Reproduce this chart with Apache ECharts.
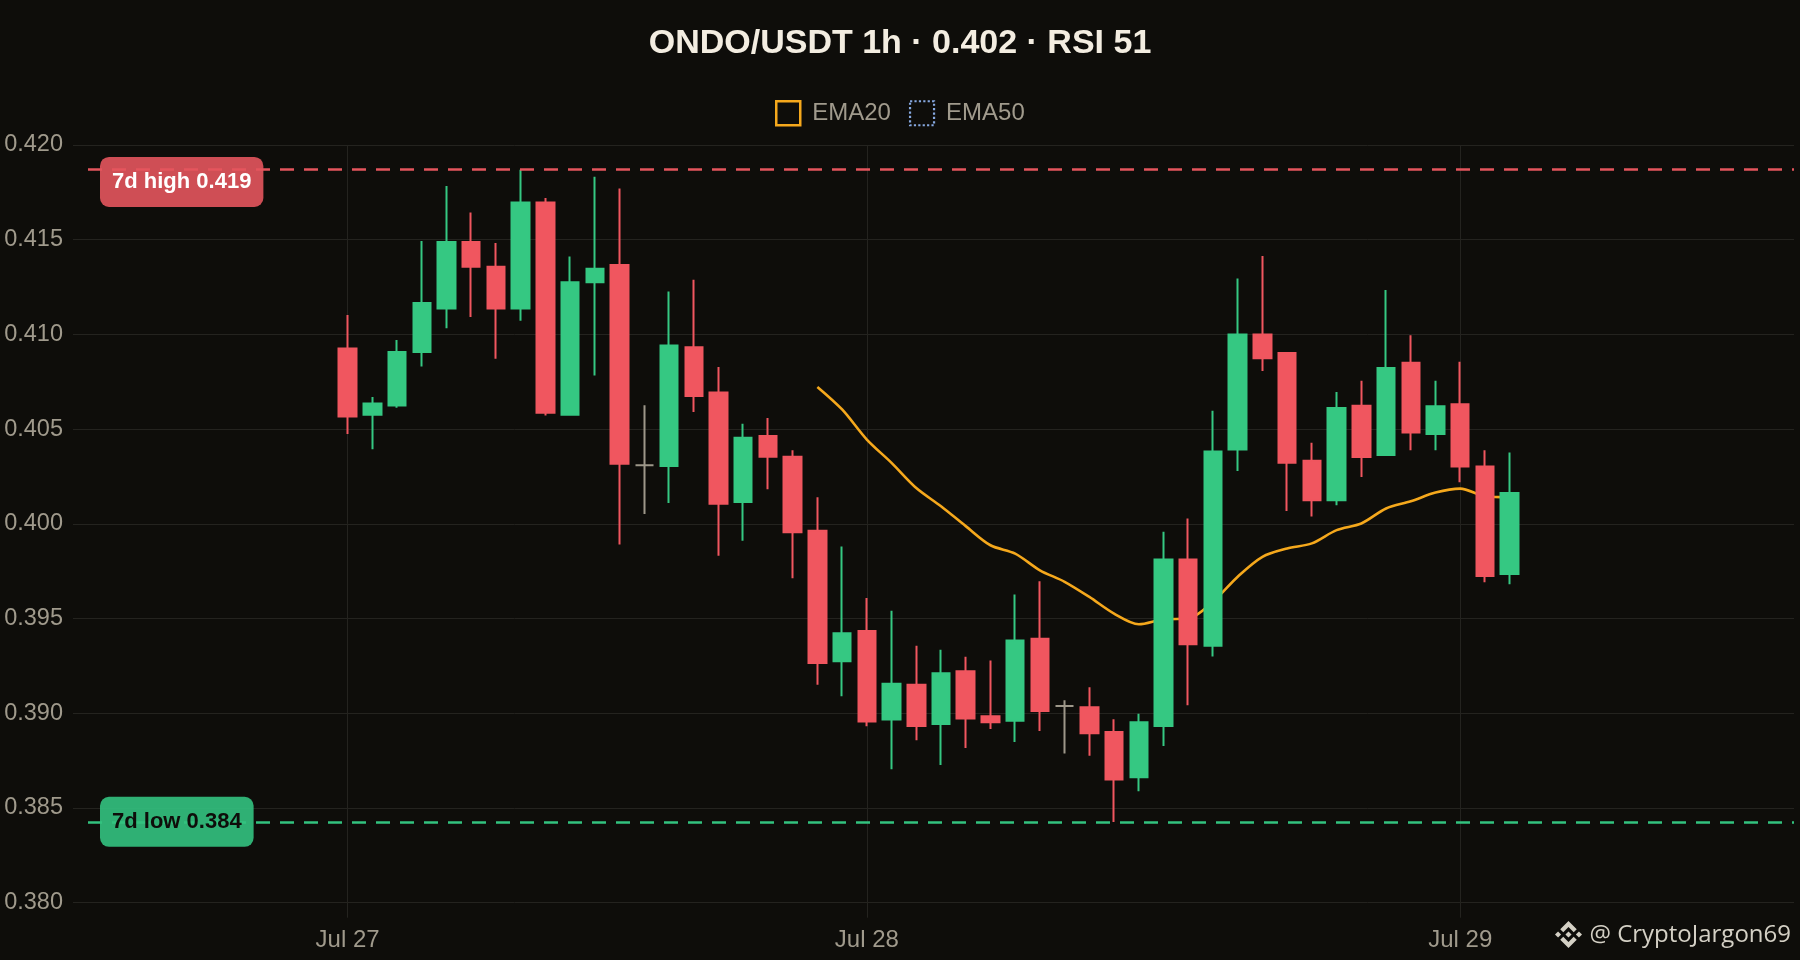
<!DOCTYPE html>
<html>
<head>
<meta charset="utf-8">
<script src="https://cdn.jsdelivr.net/npm/echarts@6/dist/echarts.min.js"></script>
<style>
  html, body { margin: 0; padding: 0; background: #0e0d0a; }
  #chart { width: 1800px; height: 960px; }
</style>
</head>
<body>
<div id="chart"></div>
<script>
// ---- Data ----
const times = [
  'Jul 27 03:00','Jul 27 04:00','Jul 27 05:00','Jul 27 06:00','Jul 27 07:00','Jul 27 08:00','Jul 27 09:00',
  'Jul 27 10:00','Jul 27 11:00','Jul 27 12:00','Jul 27 13:00','Jul 27 14:00','Jul 27 15:00','Jul 27 16:00',
  'Jul 27 17:00','Jul 27 18:00','Jul 27 19:00','Jul 27 20:00','Jul 27 21:00','Jul 27 22:00','Jul 27 23:00',
  'Jul 28 00:00','Jul 28 01:00','Jul 28 02:00','Jul 28 03:00','Jul 28 04:00','Jul 28 05:00','Jul 28 06:00',
  'Jul 28 07:00','Jul 28 08:00','Jul 28 09:00','Jul 28 10:00','Jul 28 11:00','Jul 28 12:00','Jul 28 13:00',
  'Jul 28 14:00','Jul 28 15:00','Jul 28 16:00','Jul 28 17:00','Jul 28 18:00','Jul 28 19:00','Jul 28 20:00',
  'Jul 28 21:00','Jul 28 22:00','Jul 28 23:00',
  'Jul 29 00:00','Jul 29 01:00','Jul 29 02:00'
];
const openP = [
  0.40926,0.40576,0.40625,0.40907,0.41137,0.41488,0.41357,0.41137,0.41697,0.40576,
  0.41276,0.41366,0.40310,0.40305,0.40932,0.40693,0.40115,0.40464,0.40354,0.39964,
  0.39274,0.39435,0.38967,0.39151,0.38944,0.39222,0.38984,0.38961,0.39393,0.39039,
  0.39032,0.38901,0.38662,0.38933,0.39812,0.39356,0.40393,0.41000,0.40902,0.40333,
  0.40125,0.40623,0.40363,0.40851,0.40474,0.40632,0.40303,0.39735
];
const closeP = [
  0.40567,0.40636,0.40907,0.41166,0.41488,0.41357,0.41137,0.41697,0.40586,0.41276,
  0.41347,0.40317,0.40310,0.40942,0.40675,0.40106,0.40454,0.40354,0.39955,0.39265,
  0.39423,0.38956,0.39156,0.38933,0.39211,0.38972,0.38952,0.39384,0.39012,0.39039,
  0.38894,0.38651,0.38952,0.39812,0.39365,0.40382,0.41000,0.40874,0.40323,0.40125,
  0.40612,0.40353,0.40823,0.40482,0.40621,0.40303,0.39725,0.40163
];
const lowP = [
  0.40474,0.40394,0.40613,0.40831,0.41032,0.41092,0.40871,0.41072,0.40572,0.40572,
  0.40783,0.39891,0.40052,0.40110,0.40591,0.39832,0.39911,0.40182,0.39713,0.39151,
  0.39090,0.38932,0.38705,0.38857,0.38727,0.38817,0.38917,0.38849,0.38907,0.38787,
  0.38776,0.38426,0.38588,0.38827,0.39042,0.39300,0.40279,0.40807,0.40068,0.40039,
  0.40098,0.40247,0.40363,0.40388,0.40388,0.40219,0.39692,0.39681
];
const highP = [
  0.41102,0.40669,0.40970,0.41493,0.41783,0.41643,0.41482,0.41870,0.41720,0.41412,
  0.41833,0.41771,0.40626,0.41227,0.41288,0.40828,0.40529,0.40559,0.40389,0.40140,
  0.39880,0.39608,0.39541,0.39357,0.39336,0.39298,0.39278,0.39627,0.39697,0.39069,
  0.39137,0.38968,0.38998,0.39958,0.40028,0.40597,0.41295,0.41414,0.40905,0.40428,
  0.40696,0.40756,0.41235,0.40995,0.40756,0.40856,0.40388,0.40377
];
// EMA20 starts at the 20th bar (index 19)
const ema20Start = 19;
const ema20Values = [
  0.40723,0.40604,0.40445,0.40322,0.40189,0.40093,0.39988,0.39887,0.39843,0.39755,
  0.39694,0.39614,0.39526,0.39470,0.39496,0.39500,0.39589,0.39721,0.39826,0.39870,
  0.39897,0.39967,0.40002,0.40081,0.40119,0.40165,0.40186,0.40146,0.40141
];
const ema50Values = []; // not enough bars for EMA50
const high7d = 0.41872;
const low7d = 0.38427;
const dayTickIndex = [0, 21, 45];
const dayTickLabels = ['Jul 27', 'Jul 28', 'Jul 29'];
const titleText = 'ONDO/USDT 1h · 0.402 · RSI 51';
const watermarkText = '@ CryptoJargon69';

// ---- Layout / style constants ----
const PAD_LEFT = 10, PAD_RIGHT = 11;
const BG = '#0e0d0a', GRID = '#24231f', LABEL = '#a09a8c';
const UP = '#35c882', DOWN = '#f0565f', DOJI = '#9d9789';
const EMA_C = '#f5a81c', EMA50_C = '#86a8e0';
const WM_C = '#d4d0c5';
const FONT = '"Liberation Sans", Arial, sans-serif';

const padL = Array.from({length: PAD_LEFT}, (_, i) => 'padL' + i);
const padR = Array.from({length: PAD_RIGHT}, (_, i) => 'padR' + i);
const cats = padL.concat(times, padR);
const blankL = padL.map(() => '-');
const blankR = padR.map(() => '-');

const candleData = blankL.concat(
  times.map((t, i) => [openP[i], closeP[i], lowP[i], highP[i]]),
  blankR
);
const ema20Data = blankL.concat(
  times.map((t, i) => (i >= ema20Start ? ema20Values[i - ema20Start] : '-')),
  blankR
);
const ema50Data = blankL.concat(
  times.map((t, i) => (ema50Values[i] !== undefined ? ema50Values[i] : '-')),
  blankR
);

const isDayTick = (idx) => dayTickIndex.indexOf(idx - PAD_LEFT) >= 0;
const dayLabel = (val, idx) => {
  const k = dayTickIndex.indexOf(idx - PAD_LEFT);
  return k >= 0 ? dayTickLabels[k] : '';
};

// Binance logo outline (24x24 design space), drawn as polygons
const logoShapes = [
  [[16.624,13.92],[19.34,16.636],[11.989,23.989],[4.636,16.637],[7.353,13.92],[11.989,18.58],[16.624,13.92]],
  [[21.261,9.284],[24,12],[21.285,14.716],[18.568,12]],
  [[11.989,9.285],[14.705,11.976],[11.989,14.693],[9.272,12]],
  [[2.716,9.284],[5.409,12],[2.717,14.692],[0,12]],
  [[11.989,0.012],[19.342,7.341],[16.624,10.056],[11.989,5.42],[7.353,10.08],[4.636,7.364]]
];

const chart = echarts.init(document.getElementById('chart'), null, {renderer: 'canvas'});
chart.setOption({
  backgroundColor: BG,
  animation: false,
  textStyle: { fontFamily: FONT },
  title: {
    text: titleText,
    left: 'center',
    top: 21.5,
    textStyle: { color: '#f3ede1', fontSize: 34, fontWeight: 'bold', fontFamily: FONT }
  },
  legend: {
    top: 95,
    left: 770,
    itemWidth: 24,
    itemHeight: 24,
    itemGap: 18,
    selectedMode: false,
    textStyle: { color: LABEL, fontSize: 24, fontFamily: FONT, padding: [0, 0, 0, 7] },
    data: [
      { name: 'EMA20', icon: 'rect', itemStyle: { color: 'transparent', borderColor: EMA_C, borderWidth: 2.5 } },
      { name: 'EMA50', icon: 'rect', itemStyle: { color: 'transparent', borderColor: EMA50_C, borderWidth: 2.2, borderType: 'dotted' } }
    ]
  },
  grid: { left: 88, right: 6, top: 145, bottom: 57.3, outerBoundsMode: 'none', containLabel: false },
  xAxis: {
    type: 'category',
    data: cats,
    boundaryGap: true,
    axisLine: { show: false },
    axisTick: { show: true, alignWithLabel: true, interval: isDayTick, length: 15, lineStyle: { color: GRID, width: 1 } },
    axisLabel: { interval: isDayTick, formatter: dayLabel, color: LABEL, fontSize: 24, margin: 25.5, fontFamily: FONT },
    splitLine: { show: true, interval: isDayTick, alignWithLabel: true, lineStyle: { color: GRID, width: 1 } }
  },
  yAxis: {
    type: 'value',
    min: 0.380,
    max: 0.420,
    interval: 0.005,
    axisLine: { show: false },
    axisTick: { show: true, length: 15, lineStyle: { color: GRID, width: 1 } },
    axisLabel: { formatter: (v) => v.toFixed(3), color: LABEL, fontSize: 23.5, margin: 25, fontFamily: FONT },
    splitLine: { show: true, lineStyle: { color: GRID, width: 1 } }
  },
  series: [
    {
      type: 'line',
      name: 'EMA20',
      data: ema20Data,
      z: 2,
      smooth: 0.3,
      showSymbol: false,
      symbol: 'none',
      lineStyle: { color: EMA_C, width: 2.6 },
      itemStyle: { color: EMA_C }
    },
    {
      type: 'line',
      name: 'EMA50',
      data: ema50Data,
      z: 2,
      showSymbol: false,
      symbol: 'none',
      lineStyle: { color: EMA50_C, width: 2, type: 'dotted' },
      itemStyle: { color: EMA50_C }
    },
    {
      type: 'candlestick',
      name: 'ONDO/USDT',
      data: candleData,
      z: 3,
      barWidth: 18,
      itemStyle: {
        color: UP, color0: DOWN,
        borderColor: UP, borderColor0: DOWN,
        borderColorDoji: DOJI,
        borderWidth: 2
      },
      markLine: {
        silent: true,
        precision: 5,
        symbol: ['none', 'none'],
        animation: false,
        data: [
          {
            yAxis: high7d,
            lineStyle: { color: '#e4555d', type: [14, 10], width: 2.5 },
            label: {
              show: true,
              position: 'insideStartBottom',
              distance: [12, -12.3],
              formatter: '7d high ' + high7d.toFixed(3),
              color: '#ffffff',
              fontSize: 22,
              fontWeight: 'bold',
              fontFamily: FONT,
              backgroundColor: 'rgba(228,85,93,0.9)',
              borderRadius: 9,
              padding: [14, 12]
            }
          },
          {
            yAxis: low7d,
            lineStyle: { color: '#33c27f', type: [14, 10], width: 2.5 },
            label: {
              show: true,
              position: 'insideStart',
              distance: [12, 0],
              formatter: '7d low ' + low7d.toFixed(3),
              color: '#0e0d0a',
              fontSize: 22,
              fontWeight: 'bold',
              fontFamily: FONT,
              backgroundColor: 'rgba(51,194,127,0.9)',
              borderRadius: 9,
              padding: [14, 12]
            }
          }
        ]
      }
    }
  ],
  graphic: [
    {
      type: 'group',
      x: 1555,
      y: 921,
      scaleX: 1.125,
      scaleY: 1.125,
      silent: true,
      children: logoShapes.map((pts) => ({
        type: 'polygon',
        shape: { points: pts },
        style: { fill: WM_C }
      }))
    },
    {
      type: 'text',
      x: 1791,
      y: 935,
      silent: true,
      style: {
        text: watermarkText,
        fill: WM_C,
        font: '24px "Open Sans", "Noto Sans", sans-serif',
        align: 'right',
        verticalAlign: 'middle'
      }
    }
  ]
});
</script>
</body>
</html>
